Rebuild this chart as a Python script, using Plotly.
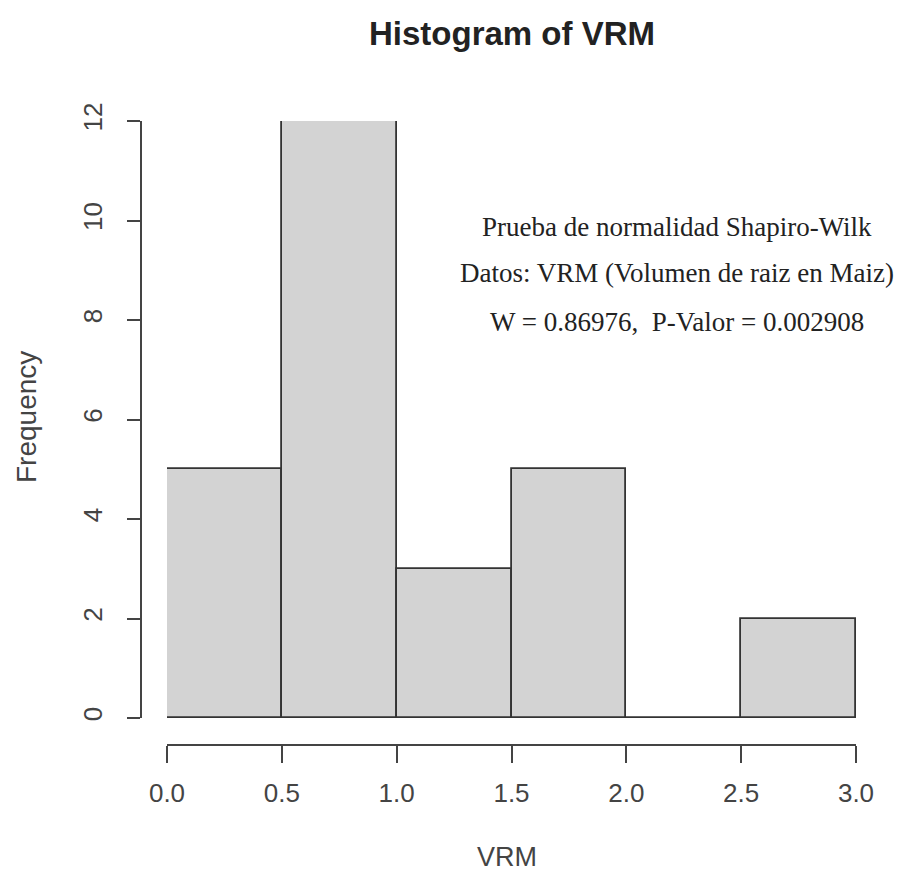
import plotly.graph_objects as go

# Data
bin_edges = [0.0, 0.5, 1.0, 1.5, 2.0, 2.5, 3.0]
counts = [5, 12, 3, 5, 0, 2]
x_ticks = [0.0, 0.5, 1.0, 1.5, 2.0, 2.5, 3.0]
x_tick_labels = ["0.0", "0.5", "1.0", "1.5", "2.0", "2.5", "3.0"]
y_ticks = [0, 2, 4, 6, 8, 10, 12]
y_tick_labels = ["0", "2", "4", "6", "8", "10", "12"]
annot_lines = [
    "Prueba de normalidad Shapiro-Wilk",
    "Datos: VRM (Volumen de raiz en Maiz)",
    "W = 0.86976,  P-Valor = 0.002908",
]

W, H = 906, 871
centers = [(bin_edges[i] + bin_edges[i + 1]) / 2 for i in range(len(counts))]
widths = [bin_edges[i + 1] - bin_edges[i] for i in range(len(counts))]

fig = go.Figure()
fig.add_trace(go.Bar(
    x=centers, y=counts, width=widths,
    marker=dict(color="#d3d3d3", line=dict(color="#333333", width=1.8)),
    cliponaxis=False, showlegend=False, hoverinfo="x+y",
))
# zero-count bins are drawn as a flat outline at 0 (as R does)
for i, c in enumerate(counts):
    if c == 0:
        fig.add_trace(go.Scatter(
            x=[bin_edges[i], bin_edges[i + 1]], y=[0, 0], mode="lines",
            line=dict(color="#333333", width=1.8), cliponaxis=False,
            showlegend=False, hoverinfo="skip",
        ))

tickfont = dict(family="Liberation Sans", size=26, color="#444444")
fig.update_layout(
    width=W, height=H, autosize=False,
    margin=dict(l=0, r=0, t=0, b=0, pad=0, autoexpand=False),
    paper_bgcolor="white", plot_bgcolor="white",
    bargap=0,
    title=dict(text="<b>Histogram of VRM</b>", x=512 / W, xanchor="center",
               y=1 - 33 / H, yanchor="middle", automargin=False,
               font=dict(family="Liberation Sans", size=33, color="#222222")),
    xaxis=dict(
        domain=[167 / W, 856 / W], range=[0, 3], anchor="free",
        position=(H - 745) / H, automargin=False,
        tickvals=x_ticks, ticktext=x_tick_labels,
        showgrid=False, zeroline=False, showline=True,
        linecolor="#444444", linewidth=2,
        ticks="outside", ticklen=17, tickwidth=2, tickcolor="#444444",
        ticklabelstandoff=8,
        tickfont=tickfont,
    ),
    yaxis=dict(
        domain=[(H - 718) / H, (H - 121) / H], range=[0, 12], anchor="free",
        position=141 / W, automargin=False,
        tickvals=y_ticks, ticktext=y_tick_labels, tickangle=-90,
        showgrid=False, zeroline=False, showline=True,
        linecolor="#444444", linewidth=2,
        ticks="outside", ticklen=13, tickwidth=2, tickcolor="#444444",
        ticklabelstandoff=15,
        tickfont=tickfont,
    ),
)

annots = [
    dict(text="VRM", x=507 / W, y=1 - 857 / H, xref="paper", yref="paper",
         showarrow=False, xanchor="center", yanchor="middle",
         font=dict(family="Liberation Sans", size=27, color="#444444")),
    dict(text="Frequency", x=26 / W, y=1 - 417 / H, xref="paper", yref="paper",
         showarrow=False, xanchor="center", yanchor="middle", textangle=-90,
         font=dict(family="Liberation Sans", size=28, color="#444444")),
]
line_y = [227, 273, 322]
for t, yy in zip(annot_lines, line_y):
    annots.append(dict(text=t, x=677 / W, y=1 - yy / H, xref="paper", yref="paper",
                       showarrow=False, xanchor="center", yanchor="middle",
                       font=dict(family="Liberation Serif", size=27, color="#222222")))
fig.update_layout(annotations=annots)

fig.write_html(
    "out.html",
    config={"displayModeBar": False},
    post_script="document.body.style.margin='0';document.body.style.overflow='hidden';",
)
